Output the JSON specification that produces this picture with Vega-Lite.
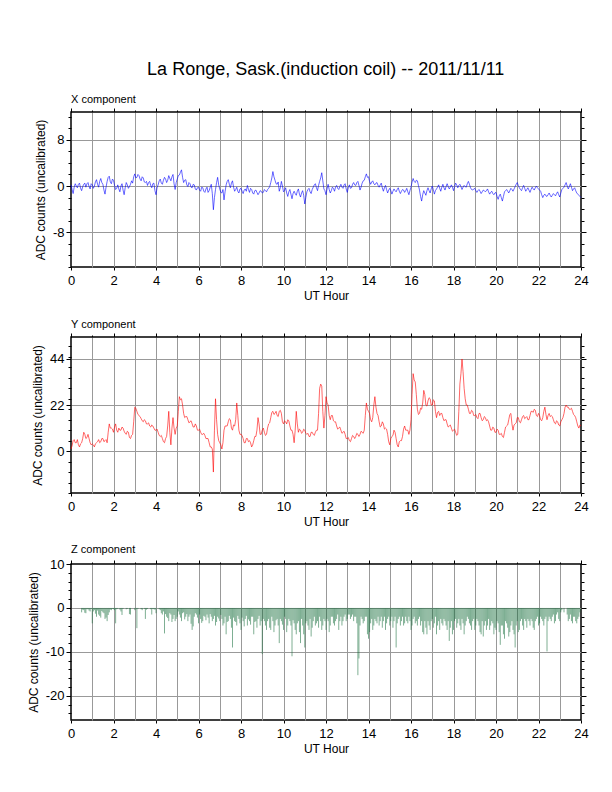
{
"$schema": "https://vega.github.io/schema/vega-lite/v6.json",
"padding": {"left": 26, "top": 60, "right": 5, "bottom": 5},
"background": "white",
"config": {
  "font": "Liberation Sans",
  "view": {"stroke": "black", "strokeWidth": 1.5},
  "axis": {"labelFont": "Liberation Sans", "titleFont": "Liberation Sans", "labelFontSize": 13, "titleFontSize": 12, "titleFontWeight": "normal", "labelColor": "black", "titleColor": "black", "tickColor": "black", "tickWidth": 1, "domain": false, "gridColor": "#999999", "gridWidth": 1, "labelOverlap": false, "labelFlush": false},
  "title": {"font": "Liberation Sans", "fontWeight": "normal", "color": "black"}
},
"title": {"text": "La Ronge, Sask.(induction coil) -- 2011/11/11", "fontSize": 18, "anchor": "middle", "offset": 14, "dx": 18},
"spacing": 15,
"data": {"values": [
{"t":0.0,"x":0.2,"y":1,"z":0},{"t":0.1,"x":-1.3,"y":5,"z":0},{"t":0.2,"x":0.4,"y":4,"z":0},{"t":0.3,"x":-0.3,"y":5.5,"z":0},{"t":0.4,"x":0.5,"y":2,"z":0},
{"t":0.5,"x":-0.8,"y":4,"z":-1},{"t":0.6,"x":0.3,"y":9,"z":-0.5},{"t":0.7,"x":-0.2,"y":6,"z":-1.2},{"t":0.8,"x":0.6,"y":8,"z":-0.3},{"t":0.9,"x":-0.5,"y":4,"z":-0.8},
{"t":1.0,"x":0.2,"y":3.5,"z":-3.5},{"t":1.1,"x":0.0,"y":2,"z":-0.5},{"t":1.2,"x":1.1,"y":4,"z":-2},{"t":1.3,"x":-0.2,"y":5.5,"z":-1.5},{"t":1.4,"x":1.3,"y":4.5,"z":-2.2},
{"t":1.5,"x":0.3,"y":6,"z":-1},{"t":1.6,"x":-1.4,"y":5,"z":-2.5},{"t":1.7,"x":0.8,"y":4,"z":-3},{"t":1.8,"x":1.7,"y":13,"z":-1},{"t":1.9,"x":0.4,"y":11,"z":-0.5},
{"t":2.0,"x":1.0,"y":9,"z":-0.3},{"t":2.1,"x":-0.6,"y":13,"z":-3.5},{"t":2.2,"x":0.2,"y":9,"z":-0.2},{"t":2.3,"x":-1.0,"y":10,"z":-0.4},{"t":2.4,"x":0.4,"y":11.5,"z":-1.6},
{"t":2.5,"x":-1.5,"y":9.5,"z":0},{"t":2.6,"x":0.6,"y":8,"z":-0.3},{"t":2.7,"x":-0.4,"y":9,"z":0},{"t":2.8,"x":0.3,"y":6,"z":-1.5},{"t":2.9,"x":0.5,"y":8,"z":0},
{"t":3.0,"x":2.1,"y":21,"z":-0.5},{"t":3.1,"x":1.5,"y":19,"z":-4.6},{"t":3.2,"x":1.8,"y":17,"z":0},{"t":3.3,"x":0.9,"y":15.5,"z":-0.3},{"t":3.4,"x":1.4,"y":14,"z":0},
{"t":3.5,"x":0.6,"y":14.5,"z":-2.5},{"t":3.6,"x":0.1,"y":13,"z":-0.2},{"t":3.7,"x":0.8,"y":12,"z":0},{"t":3.8,"x":-0.3,"y":12.5,"z":-1.5},{"t":3.9,"x":0.5,"y":11,"z":-0.3},
{"t":4.0,"x":-1.5,"y":10,"z":-1.2},{"t":4.1,"x":0.2,"y":9,"z":0},{"t":4.2,"x":1.2,"y":7,"z":-0.5},{"t":4.3,"x":0.3,"y":6,"z":-1.5},{"t":4.4,"x":1.5,"y":4,"z":-5.8},
{"t":4.5,"x":0.6,"y":7,"z":-2},{"t":4.6,"x":1.8,"y":19,"z":-3},{"t":4.7,"x":0.9,"y":3,"z":-1.5},{"t":4.8,"x":2.0,"y":16,"z":-2.5},{"t":4.9,"x":-0.6,"y":8,"z":-3},
{"t":5.0,"x":1.2,"y":12,"z":-2},{"t":5.1,"x":1.9,"y":26,"z":-1.5},{"t":5.2,"x":2.8,"y":25,"z":-3},{"t":5.3,"x":0.6,"y":18,"z":-1},{"t":5.4,"x":1.1,"y":16.5,"z":-2},
{"t":5.5,"x":-0.1,"y":15,"z":-3},{"t":5.6,"x":0.4,"y":14,"z":-1.5},{"t":5.7,"x":-0.3,"y":13,"z":-5},{"t":5.8,"x":0.2,"y":11.5,"z":-2},{"t":5.9,"x":-0.7,"y":12,"z":-1.5},
{"t":6.0,"x":-0.2,"y":10,"z":-3.5},{"t":6.1,"x":-0.9,"y":9,"z":-2.5},{"t":6.2,"x":-0.3,"y":8,"z":-3},{"t":6.3,"x":-1.1,"y":7.5,"z":-2},{"t":6.4,"x":-0.2,"y":6,"z":-1.5},
{"t":6.5,"x":-0.8,"y":4,"z":-3.5},{"t":6.6,"x":0.3,"y":2,"z":-2},{"t":6.7,"x":-4.1,"y":-10,"z":-2.5},{"t":6.8,"x":-0.6,"y":25,"z":-4},{"t":6.9,"x":1.5,"y":8,"z":-2},
{"t":7.0,"x":-0.5,"y":4,"z":-3},{"t":7.1,"x":-1.2,"y":1,"z":-2.5},{"t":7.2,"x":-2.4,"y":10,"z":-3.5},{"t":7.3,"x":0.2,"y":12,"z":-6},{"t":7.4,"x":1.1,"y":14,"z":-3},
{"t":7.5,"x":-0.3,"y":15,"z":-2.5},{"t":7.6,"x":0.9,"y":10,"z":-9},{"t":7.7,"x":-0.9,"y":12,"z":-3},{"t":7.8,"x":-0.2,"y":23,"z":-4},{"t":7.9,"x":-1.2,"y":10,"z":-2.5},
{"t":8.0,"x":-0.4,"y":8,"z":-5},{"t":8.1,"x":-1.3,"y":6,"z":-3},{"t":8.2,"x":-0.5,"y":4,"z":-2.5},{"t":8.3,"x":0.1,"y":6,"z":-4},{"t":8.4,"x":-1.1,"y":5,"z":-3},
{"t":8.5,"x":-0.6,"y":2,"z":-2},{"t":8.6,"x":-1.4,"y":5,"z":-6},{"t":8.7,"x":-0.7,"y":7,"z":-3},{"t":8.8,"x":-1.5,"y":16,"z":-2.5},{"t":8.9,"x":-0.8,"y":8,"z":-4},
{"t":9.0,"x":-1.2,"y":10,"z":-10.5},{"t":9.1,"x":-0.6,"y":9,"z":-3},{"t":9.2,"x":-1.0,"y":8,"z":-5},{"t":9.3,"x":-0.4,"y":13,"z":-2.5},{"t":9.4,"x":0.6,"y":16,"z":-5},
{"t":9.5,"x":2.5,"y":19,"z":-3},{"t":9.6,"x":1.0,"y":18,"z":-4},{"t":9.7,"x":0.3,"y":17,"z":-2.5},{"t":9.8,"x":-0.9,"y":19,"z":-8},{"t":9.9,"x":0.8,"y":18,"z":-3},
{"t":10.0,"x":-1.0,"y":13,"z":-5},{"t":10.1,"x":-0.3,"y":14,"z":-2.5},{"t":10.2,"x":-1.8,"y":15,"z":-4},{"t":10.3,"x":-0.6,"y":12,"z":-3},{"t":10.4,"x":-2.2,"y":10,"z":-11},
{"t":10.5,"x":-0.9,"y":4,"z":-3.5},{"t":10.6,"x":-1.6,"y":19,"z":-6},{"t":10.7,"x":-0.5,"y":9,"z":-3},{"t":10.8,"x":-1.9,"y":10,"z":-8},{"t":10.9,"x":-0.8,"y":9,"z":-4},
{"t":11.0,"x":-3.1,"y":10,"z":-9},{"t":11.1,"x":-1.0,"y":8,"z":-3},{"t":11.2,"x":-0.4,"y":7,"z":-5},{"t":11.3,"x":-1.3,"y":9,"z":-6.5},{"t":11.4,"x":-0.2,"y":8,"z":-3},
{"t":11.5,"x":0.4,"y":9,"z":-4},{"t":11.6,"x":-0.8,"y":10,"z":-3},{"t":11.7,"x":0.8,"y":30,"z":-2},{"t":11.8,"x":2.3,"y":31,"z":-5},{"t":11.9,"x":-0.5,"y":11,"z":-2.5},
{"t":12.0,"x":-1.5,"y":26,"z":-5},{"t":12.1,"x":0.3,"y":22,"z":-3},{"t":12.2,"x":-1.2,"y":15,"z":-4},{"t":12.3,"x":-0.2,"y":17,"z":-2},{"t":12.4,"x":-0.9,"y":14,"z":-4},
{"t":12.5,"x":0.1,"y":12,"z":-2.5},{"t":12.6,"x":-0.6,"y":11,"z":-5},{"t":12.7,"x":0.3,"y":10,"z":-2},{"t":12.8,"x":-0.4,"y":9,"z":-3},{"t":12.9,"x":0.4,"y":8,"z":-1.5},
{"t":13.0,"x":-1.1,"y":6,"z":-2.5},{"t":13.1,"x":0.2,"y":5,"z":-1.5},{"t":13.2,"x":-0.3,"y":6,"z":-2},{"t":13.3,"x":0.6,"y":7,"z":-3},{"t":13.4,"x":0.1,"y":7,"z":-2},
{"t":13.5,"x":0.8,"y":8,"z":-15.3},{"t":13.6,"x":-0.7,"y":8,"z":-4},{"t":13.7,"x":0.5,"y":9,"z":-2.5},{"t":13.8,"x":1.0,"y":10,"z":-3},{"t":13.9,"x":2.1,"y":23,"z":-2},
{"t":14.0,"x":1.6,"y":19,"z":-7},{"t":14.1,"x":0.3,"y":15,"z":-3.5},{"t":14.2,"x":0.9,"y":16,"z":-5},{"t":14.3,"x":0.2,"y":26,"z":-2.5},{"t":14.4,"x":0.6,"y":18,"z":-3.5},
{"t":14.5,"x":-0.2,"y":14,"z":-4},{"t":14.6,"x":0.5,"y":12,"z":-2},{"t":14.7,"x":-0.9,"y":13,"z":-3},{"t":14.8,"x":0.1,"y":11,"z":-5},{"t":14.9,"x":-1.2,"y":8,"z":-2.5},
{"t":15.0,"x":-0.4,"y":3,"z":-4},{"t":15.1,"x":-1.4,"y":7,"z":-2},{"t":15.2,"x":-0.5,"y":10,"z":-3},{"t":15.3,"x":-1.0,"y":6,"z":-9},{"t":15.4,"x":-0.3,"y":2,"z":-2.5},
{"t":15.5,"x":-1.3,"y":5,"z":-4},{"t":15.6,"x":-0.6,"y":7,"z":-2},{"t":15.7,"x":-1.1,"y":12,"z":-3.5},{"t":15.8,"x":-0.4,"y":10,"z":-3},{"t":15.9,"x":-1.5,"y":8,"z":-2},
{"t":16.0,"x":-0.2,"y":15,"z":-5},{"t":16.1,"x":1.3,"y":37,"z":-2.5},{"t":16.2,"x":0.6,"y":33,"z":-3.5},{"t":16.3,"x":0.9,"y":20,"z":-4},{"t":16.4,"x":-0.7,"y":18,"z":-2},
{"t":16.5,"x":-2.6,"y":20,"z":-3},{"t":16.6,"x":-0.8,"y":29,"z":-6},{"t":16.7,"x":-1.6,"y":22,"z":-4.5},{"t":16.8,"x":-0.3,"y":24,"z":-3},{"t":16.9,"x":-1.2,"y":25,"z":-5},
{"t":17.0,"x":0.0,"y":22,"z":-2.5},{"t":17.1,"x":-1.4,"y":24,"z":-3.5},{"t":17.2,"x":-0.5,"y":16,"z":-6},{"t":17.3,"x":0.2,"y":19,"z":-3},{"t":17.4,"x":-0.9,"y":18,"z":-2.5},
{"t":17.5,"x":0.3,"y":16,"z":-4},{"t":17.6,"x":-0.7,"y":15,"z":-3},{"t":17.7,"x":0.4,"y":13,"z":-5},{"t":17.8,"x":-0.5,"y":12,"z":-7.5},{"t":17.9,"x":0.2,"y":11,"z":-3},
{"t":18.0,"x":-0.8,"y":10,"z":-5},{"t":18.1,"x":0.5,"y":9,"z":-2.5},{"t":18.2,"x":-0.3,"y":8,"z":-3.5},{"t":18.3,"x":0.3,"y":32,"z":-4},{"t":18.4,"x":-0.6,"y":44,"z":-2.5},
{"t":18.5,"x":0.1,"y":30,"z":-6},{"t":18.6,"x":-0.2,"y":22,"z":-3},{"t":18.7,"x":0.8,"y":20,"z":-2.5},{"t":18.8,"x":-0.3,"y":18,"z":-4},{"t":18.9,"x":-0.7,"y":19,"z":-3},
{"t":19.0,"x":-0.4,"y":17,"z":-5},{"t":19.1,"x":-1.1,"y":16,"z":-2.5},{"t":19.2,"x":-0.6,"y":18,"z":-4},{"t":19.3,"x":-1.3,"y":16,"z":-6},{"t":19.4,"x":-0.7,"y":15,"z":-6.5},
{"t":19.5,"x":-1.0,"y":16,"z":-3},{"t":19.6,"x":-0.5,"y":15,"z":-4},{"t":19.7,"x":-1.4,"y":12,"z":-5},{"t":19.8,"x":-0.9,"y":10,"z":-3},{"t":19.9,"x":-1.5,"y":11,"z":-6},
{"t":20.0,"x":-1.1,"y":9,"z":-5},{"t":20.1,"x":-2.3,"y":10,"z":-3.5},{"t":20.2,"x":-1.4,"y":8,"z":-8.4},{"t":20.3,"x":-2.6,"y":7,"z":-4},{"t":20.4,"x":-1.0,"y":9,"z":-7},
{"t":20.5,"x":-0.6,"y":12,"z":-3.5},{"t":20.6,"x":-1.2,"y":15,"z":-6.5},{"t":20.7,"x":-0.4,"y":18,"z":-4},{"t":20.8,"x":-0.9,"y":10,"z":-5},{"t":20.9,"x":-0.1,"y":13,"z":-9},
{"t":21.0,"x":0.6,"y":16,"z":-3},{"t":21.1,"x":-0.3,"y":14,"z":-5},{"t":21.2,"x":-0.8,"y":15,"z":-2.5},{"t":21.3,"x":0.1,"y":17,"z":-5},{"t":21.4,"x":-0.9,"y":16,"z":-3},
{"t":21.5,"x":-0.3,"y":15,"z":-2.5},{"t":21.6,"x":-1.1,"y":17,"z":-4},{"t":21.7,"x":-0.2,"y":19,"z":-3},{"t":21.8,"x":-0.7,"y":20,"z":-5},{"t":21.9,"x":0.0,"y":17,"z":-2.5},
{"t":22.0,"x":-0.5,"y":18,"z":-4},{"t":22.1,"x":-0.9,"y":15,"z":-2},{"t":22.2,"x":-2.0,"y":16,"z":-3},{"t":22.3,"x":-1.4,"y":21,"z":-2.5},{"t":22.4,"x":-1.8,"y":15,"z":-9.9},
{"t":22.5,"x":-1.2,"y":18,"z":-2},{"t":22.6,"x":-1.9,"y":17,"z":-3},{"t":22.7,"x":-1.3,"y":15,"z":-1.5},{"t":22.8,"x":-1.7,"y":13,"z":-3},{"t":22.9,"x":-1.0,"y":14,"z":-1},
{"t":23.0,"x":-1.9,"y":12,"z":-3},{"t":23.1,"x":-0.6,"y":15,"z":-0.5},{"t":23.2,"x":-0.2,"y":18,"z":-1},{"t":23.3,"x":0.6,"y":22,"z":0},{"t":23.4,"x":-0.5,"y":21,"z":-3},
{"t":23.5,"x":0.4,"y":20,"z":-1.5},{"t":23.6,"x":-0.8,"y":19,"z":-3.5},{"t":23.7,"x":-0.3,"y":17,"z":-2},{"t":23.8,"x":-1.2,"y":14,"z":-3.5},{"t":23.9,"x":-1.6,"y":11,"z":-2},
{"t":24.0,"x":-2.0,"y":12,"z":0},
{"t":0.05,"x":-0.6,"y":2.5,"z":0},{"t":0.15,"x":-0.2,"y":5.5,"z":0},{"t":0.25,"x":0.0,"y":4,"z":0},{"t":0.35,"x":0.3,"y":3,"z":0},{"t":0.45,"x":-0.4,"y":3.5,"z":0},
{"t":0.55,"x":-0.1,"y":6,"z":-0.4},{"t":0.65,"x":0.5,"y":8,"z":-1.1},{"t":0.75,"x":0.4,"y":6.5,"z":-0.3},{"t":0.85,"x":-0.1,"y":6,"z":-0.6},{"t":0.95,"x":0.4,"y":3,"z":-0.2},
{"t":1.05,"x":-0.4,"y":3,"z":-0.8},{"t":1.15,"x":0.7,"y":3.5,"z":-1.3},{"t":1.25,"x":0.3,"y":4.5,"z":-0.6},{"t":1.35,"x":0.8,"y":4,"z":-1.8},{"t":1.45,"x":0.6,"y":6,"z":-0.7},
{"t":1.55,"x":-0.7,"y":4.5,"z":-1.2},{"t":1.65,"x":-0.2,"y":5.5,"z":-2.2},{"t":1.75,"x":1.5,"y":9,"z":-1.6},{"t":1.85,"x":0.7,"y":11,"z":-0.4},{"t":1.95,"x":1.2,"y":10.5,"z":-0.2},
{"t":2.05,"x":0.1,"y":11.5,"z":-0.5},{"t":2.15,"x":-0.4,"y":10,"z":-0.3},{"t":2.25,"x":-0.5,"y":11,"z":0},{"t":2.35,"x":0.0,"y":10,"z":-0.8},{"t":2.45,"x":-0.7,"y":11,"z":-0.2},
{"t":2.55,"x":-0.3,"y":8.5,"z":0},{"t":2.65,"x":0.2,"y":9.5,"z":-0.2},{"t":2.75,"x":-0.1,"y":6.5,"z":-1.4},{"t":2.85,"x":0.9,"y":7.5,"z":0},{"t":2.95,"x":1.6,"y":14,"z":0},
{"t":3.05,"x":1.4,"y":20.5,"z":-0.3},{"t":3.15,"x":2.0,"y":17.5,"z":-0.2},{"t":3.25,"x":1.2,"y":16.5,"z":0},{"t":3.35,"x":1.6,"y":14.5,"z":-0.5},{"t":3.45,"x":0.7,"y":15,"z":-0.2},
{"t":3.55,"x":0.8,"y":13,"z":-0.4},{"t":3.65,"x":0.6,"y":13.5,"z":0},{"t":3.75,"x":0.1,"y":11.5,"z":-0.3},{"t":3.85,"x":0.4,"y":12,"z":-0.2},{"t":3.95,"x":-0.8,"y":10,"z":-0.4},
{"t":4.05,"x":-0.3,"y":10.5,"z":0},{"t":4.15,"x":0.9,"y":7.5,"z":-0.3},{"t":4.25,"x":0.5,"y":7.5,"z":-1.2},{"t":4.35,"x":1.0,"y":4.5,"z":-0.8},{"t":4.45,"x":1.2,"y":6,"z":-1.4},
{"t":4.55,"x":1.0,"y":12,"z":-2.3},{"t":4.65,"x":1.3,"y":9,"z":-1.2},{"t":4.75,"x":1.6,"y":11,"z":-3.2},{"t":4.85,"x":0.4,"y":11,"z":-1.6},{"t":4.95,"x":0.6,"y":11,"z":-2.5},
{"t":5.05,"x":1.8,"y":19,"z":-0.8},{"t":5.15,"x":2.4,"y":24.5,"z":-2.2},{"t":5.25,"x":1.5,"y":22,"z":-1.2},{"t":5.35,"x":1.0,"y":16,"z":-2.6},{"t":5.45,"x":0.2,"y":16.5,"z":-1.4},
{"t":5.55,"x":0.6,"y":13.5,"z":-2},{"t":5.65,"x":-0.2,"y":14.5,"z":-3.6},{"t":5.75,"x":0.3,"y":11.5,"z":-4.2},{"t":5.85,"x":-0.5,"y":13,"z":-1.2},{"t":5.95,"x":-0.3,"y":10,"z":-2.2},
{"t":6.05,"x":-0.7,"y":10.5,"z":-1.5},{"t":6.15,"x":-0.2,"y":8,"z":-3.4},{"t":6.25,"x":-0.9,"y":8.5,"z":-1.8},{"t":6.35,"x":-0.5,"y":6,"z":-2.8},{"t":6.45,"x":-1.1,"y":6,"z":-2.2},
{"t":6.55,"x":-0.2,"y":2,"z":-1.4},{"t":6.65,"x":-1.3,"y":1,"z":-3},{"t":6.75,"x":-2.0,"y":10,"z":-1.8},{"t":6.85,"x":0.6,"y":15,"z":-3.2},{"t":6.95,"x":0.2,"y":5,"z":-2.4},
{"t":7.05,"x":-1.1,"y":3,"z":-1.6},{"t":7.15,"x":-0.6,"y":4,"z":-4},{"t":7.25,"x":-1.0,"y":12,"z":-2},{"t":7.35,"x":0.8,"y":12,"z":-3.2},{"t":7.45,"x":0.3,"y":15.5,"z":-1.8},
{"t":7.55,"x":0.5,"y":11,"z":-4.5},{"t":7.65,"x":-0.2,"y":12.5,"z":-2.2},{"t":7.75,"x":-0.6,"y":15,"z":-3.2},{"t":7.85,"x":-0.9,"y":17,"z":-1.8},{"t":7.95,"x":-0.5,"y":8,"z":-3.5},
{"t":8.05,"x":-0.9,"y":7.5,"z":-2.2},{"t":8.15,"x":-0.7,"y":4,"z":-4.2},{"t":8.25,"x":-0.9,"y":6,"z":-1.8},{"t":8.35,"x":-0.6,"y":4.5,"z":-2.6},{"t":8.45,"x":-0.4,"y":4,"z":-3.8},
{"t":8.55,"x":-1.2,"y":3,"z":-2},{"t":8.65,"x":-0.8,"y":7,"z":-3.2},{"t":8.75,"x":-1.1,"y":10,"z":-4.5},{"t":8.85,"x":-1.2,"y":13,"z":-1.8},{"t":8.95,"x":-0.9,"y":8,"z":-3},
{"t":9.05,"x":-1.1,"y":11,"z":-2.5},{"t":9.15,"x":-0.8,"y":7.5,"z":-4},{"t":9.25,"x":-0.6,"y":11,"z":-3},{"t":9.35,"x":-0.1,"y":13.5,"z":-4.5},{"t":9.45,"x":1.4,"y":18.5,"z":-2},
{"t":9.55,"x":1.6,"y":17.5,"z":-5.5},{"t":9.65,"x":0.4,"y":19,"z":-2.8},{"t":9.75,"x":0.7,"y":16.5,"z":-4},{"t":9.85,"x":-0.3,"y":19.5,"z":-2.5},{"t":9.95,"x":0.0,"y":14,"z":-3.8},
{"t":10.05,"x":-0.8,"y":14.5,"z":-2},{"t":10.15,"x":-1.2,"y":13,"z":-5.5},{"t":10.25,"x":-1.0,"y":14.5,"z":-2.5},{"t":10.35,"x":-1.4,"y":10,"z":-4},{"t":10.45,"x":-1.3,"y":8,"z":-2.8},
{"t":10.55,"x":-1.3,"y":10,"z":-5},{"t":10.65,"x":-0.9,"y":13,"z":-3.5},{"t":10.75,"x":-1.4,"y":10.5,"z":-5.5},{"t":10.85,"x":-1.2,"y":8.5,"z":-2.5},{"t":10.95,"x":-1.6,"y":10.5,"z":-6},
{"t":11.05,"x":-2.0,"y":8.5,"z":-3.5},{"t":11.15,"x":-0.6,"y":8.5,"z":-4},{"t":11.25,"x":-1.0,"y":7,"z":-2.5},{"t":11.35,"x":-0.6,"y":9,"z":-4.5},{"t":11.45,"x":0.2,"y":7.5,"z":-2},
{"t":11.55,"x":-0.3,"y":10,"z":-3.5},{"t":11.65,"x":0.1,"y":18,"z":-4.5},{"t":11.75,"x":1.4,"y":32,"z":-3},{"t":11.85,"x":0.9,"y":19,"z":-4},{"t":11.95,"x":-0.8,"y":17,"z":-3},
{"t":12.05,"x":-0.5,"y":23,"z":-2.5},{"t":12.15,"x":-0.6,"y":17,"z":-5.5},{"t":12.25,"x":-0.8,"y":17,"z":-2},{"t":12.35,"x":-0.4,"y":14.5,"z":-3.5},{"t":12.45,"x":-0.2,"y":14,"z":-3},
{"t":12.55,"x":-0.4,"y":10.5,"z":-1.5},{"t":12.65,"x":-0.1,"y":11.5,"z":-3},{"t":12.75,"x":-0.2,"y":8.5,"z":-4},{"t":12.85,"x":0.2,"y":9.5,"z":-2},{"t":12.95,"x":-0.5,"y":6,"z":-3},
{"t":13.05,"x":-0.3,"y":6.5,"z":-1.5},{"t":13.15,"x":-0.4,"y":4.5,"z":-2.5},{"t":13.25,"x":0.3,"y":7.5,"z":-1.5},{"t":13.35,"x":0.2,"y":6,"z":-2},{"t":13.45,"x":0.6,"y":8.5,"z":-3.5},
{"t":13.55,"x":0.1,"y":7,"z":-11.5},{"t":13.65,"x":-0.2,"y":9.5,"z":-2},{"t":13.75,"x":0.9,"y":8.5,"z":-3.5},{"t":13.85,"x":1.6,"y":17,"z":-2},{"t":13.95,"x":1.5,"y":20,"z":-6},
{"t":14.05,"x":0.8,"y":18,"z":-5.5},{"t":14.15,"x":0.7,"y":14,"z":-2.5},{"t":14.25,"x":0.4,"y":22,"z":-4},{"t":14.35,"x":0.5,"y":21,"z":-3},{"t":14.45,"x":0.1,"y":17,"z":-2},
{"t":14.55,"x":0.2,"y":11.5,"z":-3},{"t":14.65,"x":-0.3,"y":14,"z":-4.5},{"t":14.75,"x":-0.3,"y":10.5,"z":-2},{"t":14.85,"x":-0.6,"y":10.5,"z":-3.5},{"t":14.95,"x":-0.7,"y":4.5,"z":-2},
{"t":15.05,"x":-0.8,"y":6,"z":-3},{"t":15.15,"x":-0.9,"y":7.5,"z":-4.5},{"t":15.25,"x":-0.8,"y":9,"z":-2},{"t":15.35,"x":-0.6,"y":3,"z":-3.5},{"t":15.45,"x":-0.9,"y":4.5,"z":-2},
{"t":15.55,"x":-0.9,"y":5,"z":-3},{"t":15.65,"x":-0.7,"y":10.5,"z":-4},{"t":15.75,"x":-0.8,"y":10,"z":-2},{"t":15.85,"x":-1.0,"y":10,"z":-3.5},{"t":15.95,"x":-0.8,"y":10,"z":-3},
{"t":16.05,"x":0.7,"y":27,"z":-4},{"t":16.15,"x":0.8,"y":34,"z":-2},{"t":16.25,"x":1.0,"y":27,"z":-3},{"t":16.35,"x":0.1,"y":17.5,"z":-2.5},{"t":16.45,"x":-1.8,"y":20.5,"z":-4},
{"t":16.55,"x":-1.5,"y":23,"z":-5.5},{"t":16.65,"x":-1.2,"y":27,"z":-3},{"t":16.75,"x":-0.8,"y":21.5,"z":-6},{"t":16.85,"x":-0.8,"y":25.5,"z":-4},{"t":16.95,"x":-0.5,"y":22,"z":-3},
{"t":17.05,"x":-0.6,"y":24.5,"z":-4.5},{"t":17.15,"x":-0.8,"y":19,"z":-2},{"t":17.25,"x":-0.2,"y":18.5,"z":-4},{"t":17.35,"x":-0.4,"y":17,"z":-5},{"t":17.45,"x":-0.2,"y":18,"z":-3.5},
{"t":17.55,"x":-0.3,"y":14.5,"z":-2.5},{"t":17.65,"x":-0.1,"y":15,"z":-4},{"t":17.75,"x":-0.1,"y":11.5,"z":-3},{"t":17.85,"x":-0.2,"y":12.5,"z":-4.5},{"t":17.95,"x":-0.2,"y":9.5,"z":-6},
{"t":18.05,"x":-0.1,"y":10.5,"z":-3},{"t":18.15,"x":0.2,"y":7.5,"z":-4.5},{"t":18.25,"x":0.1,"y":19,"z":-2.5},{"t":18.35,"x":-0.1,"y":37,"z":-5},{"t":18.45,"x":-0.2,"y":38,"z":-3.5},
{"t":18.55,"x":-0.1,"y":25,"z":-4},{"t":18.65,"x":0.4,"y":22,"z":-2},{"t":18.75,"x":0.3,"y":18,"z":-3.5},{"t":18.85,"x":-0.6,"y":19.5,"z":-5},{"t":18.95,"x":-0.5,"y":17,"z":-2.5},
{"t":19.05,"x":-0.8,"y":17.5,"z":-4},{"t":19.15,"x":-0.8,"y":15.5,"z":-3},{"t":19.25,"x":-0.9,"y":18,"z":-5.5},{"t":19.35,"x":-1.0,"y":14.5,"z":-3},{"t":19.45,"x":-0.8,"y":16.5,"z":-4},
{"t":19.55,"x":-0.8,"y":14.5,"z":-5},{"t":19.65,"x":-1.0,"y":14,"z":-2.5},{"t":19.75,"x":-1.1,"y":10,"z":-4},{"t":19.85,"x":-1.3,"y":11.5,"z":-3.5},{"t":19.95,"x":-1.2,"y":9,"z":-4.5},
{"t":20.05,"x":-1.8,"y":10.5,"z":-3},{"t":20.15,"x":-1.7,"y":8,"z":-5.5},{"t":20.25,"x":-2.0,"y":8.5,"z":-4},{"t":20.35,"x":-1.8,"y":6.5,"z":-6},{"t":20.45,"x":-0.8,"y":11.5,"z":-3},
{"t":20.55,"x":-0.9,"y":12.5,"z":-4.5},{"t":20.65,"x":-0.8,"y":17.5,"z":-5.5},{"t":20.75,"x":-0.6,"y":13,"z":-3},{"t":20.85,"x":-0.5,"y":12.5,"z":-6},{"t":20.95,"x":0.3,"y":13.5,"z":-4},
{"t":21.05,"x":0.1,"y":16,"z":-5.5},{"t":21.15,"x":-0.6,"y":13.5,"z":-3},{"t":21.25,"x":-0.3,"y":16.5,"z":-4},{"t":21.35,"x":-0.4,"y":15.5,"z":-2.5},{"t":21.45,"x":-0.6,"y":16.5,"z":-4.5},
{"t":21.55,"x":-0.7,"y":15,"z":-3},{"t":21.65,"x":-0.6,"y":19,"z":-2.5},{"t":21.75,"x":-0.5,"y":18.5,"z":-4.5},{"t":21.85,"x":-0.3,"y":19.5,"z":-3},{"t":21.95,"x":-0.3,"y":16.5,"z":-2},
{"t":22.05,"x":-0.7,"y":17,"z":-3.5},{"t":22.15,"x":-1.5,"y":14.5,"z":-2.5},{"t":22.25,"x":-1.6,"y":19,"z":-4},{"t":22.35,"x":-1.7,"y":17.5,"z":-2},{"t":22.45,"x":-1.5,"y":17,"z":-3},
{"t":22.55,"x":-1.6,"y":16.5,"z":-2.5},{"t":22.65,"x":-1.6,"y":16.5,"z":-2},{"t":22.75,"x":-1.5,"y":13.5,"z":-3.5},{"t":22.85,"x":-1.3,"y":14.5,"z":-1.5},{"t":22.95,"x":-1.5,"y":12.5,"z":-2.5},
{"t":23.05,"x":-1.2,"y":14,"z":-1},{"t":23.15,"x":-0.4,"y":16,"z":0},{"t":23.25,"x":0.2,"y":21,"z":0},{"t":23.35,"x":0.0,"y":21,"z":-1.5},{"t":23.45,"x":-0.1,"y":20,"z":-2.5},
{"t":23.55,"x":-0.2,"y":20.5,"z":-3},{"t":23.65,"x":-0.5,"y":17.5,"z":-2},{"t":23.75,"x":-0.8,"y":16,"z":-3},{"t":23.85,"x":-1.4,"y":12,"z":-2.5},{"t":23.95,"x":-1.8,"y":12.5,"z":-1}
]},
"vconcat": [
{
 "width": 510, "height": 155,
 "title": {"text": "X component", "anchor": "start", "frame": "group", "fontSize": 11, "offset": 3},
 "resolve": {"axis": {"x": "independent", "y": "independent"}},
 "layer": [
  {"mark": {"type": "line", "color": "#0000ff", "strokeWidth": 0.6},
   "encoding": {
    "x": {"field": "t", "type": "quantitative", "scale": {"domain": [0, 24], "nice": false, "zero": false},
      "axis": {"orient": "bottom", "values": [0,1,2,3,4,5,6,7,8,9,10,11,12,13,14,15,16,17,18,19,20,21,22,23,24], "labelExpr": "datum.value % 2 === 0 ? '' + datum.value : ''", "title": "UT Hour", "grid": true, "gridOpacity": {"condition": {"test": "datum.value > 0 && datum.value < 24", "value": 1}, "value": 0}, "tickSize": 3, "tickOpacity": {"condition": {"test": "datum.value % 2 === 0", "value": 1}, "value": 0}, "labelPadding": 4, "titlePadding": 3}},
    "y": {"field": "x", "type": "quantitative", "scale": {"domain": [-14, 12.8], "nice": false, "zero": false},
      "axis": {"orient": "left", "values": [-14,-12,-10,-8,-6,-4,-2,0,2,4,6,8,10,12], "labelExpr": "datum.value % 8 === 0 ? '' + datum.value : ''", "title": "ADC counts (uncalibrated)", "grid": true, "gridOpacity": {"condition": {"test": "datum.value % 8 === 0", "value": 1}, "value": 0}, "tickSize": {"condition": {"test": "datum.value % 8 === 0", "value": 5}, "value": 3}, "labelPadding": 2, "titlePadding": 5}}
   }},
  {"mark": {"type": "point", "opacity": 0},
   "encoding": {
    "x": {"field": "t", "type": "quantitative", "scale": {"domain": [0, 24], "nice": false, "zero": false},
      "axis": {"orient": "top", "values": [0,1,2,3,4,5,6,7,8,9,10,11,12,13,14,15,16,17,18,19,20,21,22,23,24], "labels": false, "title": null, "grid": false, "tickSize": {"condition": {"test": "datum.value % 2 === 0", "value": 4}, "value": 2}}},
    "y": {"field": "x", "type": "quantitative", "scale": {"domain": [-14, 12.8], "nice": false, "zero": false},
      "axis": {"orient": "right", "values": [-14,-12,-10,-8,-6,-4,-2,0,2,4,6,8,10,12], "labels": false, "title": null, "grid": false, "tickSize": {"condition": {"test": "datum.value % 8 === 0", "value": 5}, "value": 3}}}
   }}
 ]
},
{
 "width": 510, "height": 156,
 "title": {"text": "Y component", "anchor": "start", "frame": "group", "fontSize": 11, "offset": 3},
 "resolve": {"axis": {"x": "independent", "y": "independent"}},
 "layer": [
  {"mark": {"type": "line", "color": "#ff0000", "strokeWidth": 0.6},
   "encoding": {
    "x": {"field": "t", "type": "quantitative", "scale": {"domain": [0, 24], "nice": false, "zero": false},
      "axis": {"orient": "bottom", "values": [0,1,2,3,4,5,6,7,8,9,10,11,12,13,14,15,16,17,18,19,20,21,22,23,24], "labelExpr": "datum.value % 2 === 0 ? '' + datum.value : ''", "title": "UT Hour", "grid": true, "gridOpacity": {"condition": {"test": "datum.value > 0 && datum.value < 24", "value": 1}, "value": 0}, "tickSize": 3, "tickOpacity": {"condition": {"test": "datum.value % 2 === 0", "value": 1}, "value": 0}, "labelPadding": 4, "titlePadding": 3}},
    "y": {"field": "y", "type": "quantitative", "scale": {"domain": [-20, 54.5], "nice": false, "zero": false},
      "axis": {"orient": "left", "values": [-20,-15,-10,-5,0,5,10,15,20,22,25,30,35,40,44,45,50], "labelExpr": "datum.value % 22 === 0 ? '' + datum.value : ''", "title": "ADC counts (uncalibrated)", "grid": true, "gridOpacity": {"condition": {"test": "datum.value % 22 === 0", "value": 1}, "value": 0}, "tickSize": {"condition": {"test": "datum.value % 22 === 0", "value": 5}, "value": 3}, "labelPadding": 2, "titlePadding": 5}}
   }},
  {"mark": {"type": "point", "opacity": 0},
   "encoding": {
    "x": {"field": "t", "type": "quantitative", "scale": {"domain": [0, 24], "nice": false, "zero": false},
      "axis": {"orient": "top", "values": [0,1,2,3,4,5,6,7,8,9,10,11,12,13,14,15,16,17,18,19,20,21,22,23,24], "labels": false, "title": null, "grid": false, "tickSize": {"condition": {"test": "datum.value % 2 === 0", "value": 4}, "value": 2}}},
    "y": {"field": "y", "type": "quantitative", "scale": {"domain": [-20, 54.5], "nice": false, "zero": false},
      "axis": {"orient": "right", "values": [-20,-15,-10,-5,0,5,10,15,20,22,25,30,35,40,44,45,50], "labels": false, "title": null, "grid": false, "tickSize": {"condition": {"test": "datum.value % 22 === 0", "value": 5}, "value": 3}}}
   }}
 ]
},
{
 "width": 510, "height": 156,
 "title": {"text": "Z component", "anchor": "start", "frame": "group", "fontSize": 11, "offset": 3},
 "resolve": {"axis": {"x": "independent", "y": "independent"}},
 "layer": [
  {"mark": {"type": "rule", "color": "#0f6a36", "strokeWidth": 0.6, "opacity": 0.9},
   "encoding": {
    "x": {"field": "t", "type": "quantitative", "scale": {"domain": [0, 24], "nice": false, "zero": false},
      "axis": {"orient": "bottom", "values": [0,1,2,3,4,5,6,7,8,9,10,11,12,13,14,15,16,17,18,19,20,21,22,23,24], "labelExpr": "datum.value % 2 === 0 ? '' + datum.value : ''", "title": "UT Hour", "grid": true, "gridOpacity": {"condition": {"test": "datum.value > 0 && datum.value < 24", "value": 1}, "value": 0}, "tickSize": 3, "tickOpacity": {"condition": {"test": "datum.value % 2 === 0", "value": 1}, "value": 0}, "labelPadding": 4, "titlePadding": 3}},
    "y": {"field": "z", "type": "quantitative", "scale": {"domain": [-25.5, 10], "nice": false, "zero": false},
      "axis": {"orient": "left", "values": [-24,-22,-20,-18,-16,-14,-12,-10,-8,-6,-4,-2,0,2,4,6,8,10], "labelExpr": "datum.value % 10 === 0 ? '' + datum.value : ''", "title": "ADC counts (uncalibrated)", "grid": true, "gridOpacity": {"condition": {"test": "datum.value % 10 === 0 && datum.value < 10", "value": 1}, "value": 0}, "tickSize": {"condition": {"test": "datum.value % 10 === 0", "value": 5}, "value": 3}, "labelPadding": 2, "titlePadding": 5}},
    "y2": {"datum": 0}
   }},
  {"mark": {"type": "point", "opacity": 0},
   "encoding": {
    "x": {"field": "t", "type": "quantitative", "scale": {"domain": [0, 24], "nice": false, "zero": false},
      "axis": {"orient": "top", "values": [0,1,2,3,4,5,6,7,8,9,10,11,12,13,14,15,16,17,18,19,20,21,22,23,24], "labels": false, "title": null, "grid": false, "tickSize": {"condition": {"test": "datum.value % 2 === 0", "value": 4}, "value": 2}}},
    "y": {"field": "z", "type": "quantitative", "scale": {"domain": [-25.5, 10], "nice": false, "zero": false},
      "axis": {"orient": "right", "values": [-24,-22,-20,-18,-16,-14,-12,-10,-8,-6,-4,-2,0,2,4,6,8,10], "labels": false, "title": null, "grid": false, "tickSize": {"condition": {"test": "datum.value % 10 === 0", "value": 5}, "value": 3}}}
   }}
 ]
}
]
}
